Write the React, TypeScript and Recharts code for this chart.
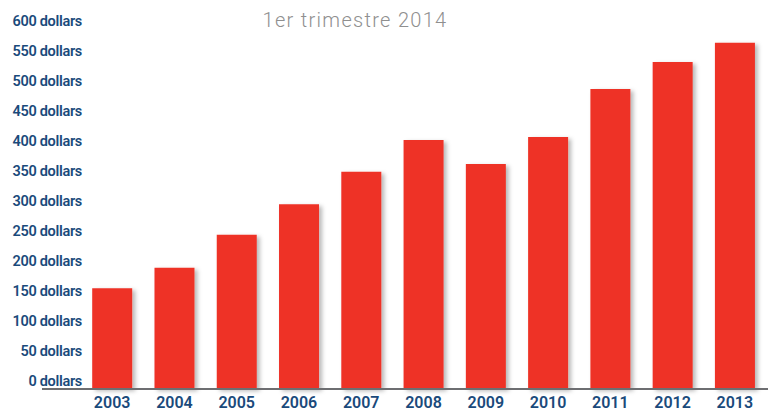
import React from 'react';
import { BarChart, Bar, XAxis, YAxis, Rectangle } from 'recharts';

const years = ['2003', '2004', '2005', '2006', '2007', '2008', '2009', '2010', '2011', '2012', '2013'];
const prices = [168, 202, 257, 308, 362, 415, 375, 420, 500, 545, 577];
const yTicks = [0, 50, 100, 150, 200, 250, 300, 350, 400, 450, 500, 550, 600];
const subtitle = '1er trimestre 2014';

const data = years.map((y, i) => ({ year: y, value: prices[i] }));

const BLUE = '#1a4a7b';
const RED = '#ee3127';

const YTick = (props: any) => {
  const { y, payload } = props;
  return (
    <text x={82} y={y - 3.5} textAnchor="end" fill={BLUE} fontFamily="Roboto, 'Open Sans', sans-serif" fontWeight={600} fontSize={14.5} letterSpacing={-0.3}>
      {`${payload.value} dollars`}
    </text>
  );
};

const XTick = (props: any) => {
  const { x, payload } = props;
  return (
    <text x={x} y={408} textAnchor="middle" fill={BLUE} fontFamily="Roboto, 'Open Sans', sans-serif" fontWeight={600} fontSize={16}>
      {payload.value}
    </text>
  );
};

const ShadowBar = (props: any) => <Rectangle {...props} filter="url(#barShadow)" />;

export default function App() {
  return (
    <div style={{ position: 'absolute', left: 0, top: 0, width: 768, height: 412, background: '#fff', overflow: 'hidden' }}>
      <BarChart width={768} height={412} data={data} margin={{ top: 29, right: 0, left: 0, bottom: 0 }} barCategoryGap="18%">
        <defs>
          <filter id="barShadow" x="-20%" y="-20%" width="150%" height="150%">
            <feDropShadow dx="3" dy="2" stdDeviation="2" floodColor="#000" floodOpacity="0.28" />
          </filter>
        </defs>
        <text x={355} y={27} textAnchor="middle" fill="#8f8f8f" fontFamily="Roboto, sans-serif" fontWeight={300} fontSize={20} letterSpacing={1.3}>
          {subtitle}
        </text>
        <YAxis width={42} domain={[0, 600]} ticks={yTicks} axisLine={false} tickLine={false} tick={<YTick />} interval={0} />
        <XAxis
          dataKey="year"
          height={23}
          padding={{ left: 39, right: 2 }}
          axisLine={{ stroke: '#6d6e71', strokeWidth: 2 }}
          tickLine={false}
          tick={<XTick />}
          interval={0}
        />
        <Bar dataKey="value" fill={RED} isAnimationActive={false} shape={<ShadowBar />} />
      </BarChart>
    </div>
  );
}
